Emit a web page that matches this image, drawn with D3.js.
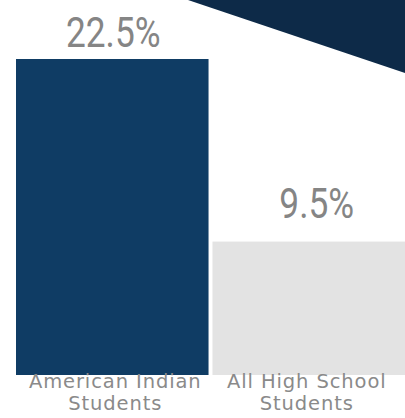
<!DOCTYPE html>
<html>
<head>
<meta charset="utf-8">
<script src="https://cdn.jsdelivr.net/npm/d3@7"></script>
<style>
  html, body { margin: 0; padding: 0; background: #fff; }
  svg { display: block; }
</style>
</head>
<body>
<svg id="chart"></svg>
<script>
// chart values
const categories = ['American Indian Students', 'All High School Students'];
const values = [22.5, 9.5];
const valueLabels = ['22.5%', '9.5%'];
const categoryLines = [['American Indian', 'Students'], ['All High School', 'Students']];
const barColors = ['#0f3c64', '#e3e3e3'];

const width = 405;
const height = 418;
const baseY = 375;

const svg = d3.select('#chart')
  .attr('width', width)
  .attr('height', height);

// decorative corner triangle
svg.append('polygon')
  .attr('points', `188,0 ${width},0 ${width},73`)
  .attr('fill', '#0d2a48');

const x = d3.scaleBand()
  .domain(categories)
  .range([16, width])
  .paddingInner(0.02)
  .paddingOuter(0);

const y = d3.scaleLinear()
  .domain([0, 22.5])
  .range([baseY, 59]);

svg.selectAll('rect.bar')
  .data(categories)
  .enter()
  .append('rect')
  .attr('class', 'bar')
  .attr('x', d => x(d))
  .attr('y', (d, i) => y(values[i]))
  .attr('width', x.bandwidth())
  .attr('height', (d, i) => y(0) - y(values[i]))
  .attr('fill', (d, i) => barColors[i]);

// value labels above the bars (condensed look via horizontal squeeze)
svg.selectAll('text.value')
  .data(categories)
  .enter()
  .append('text')
  .attr('class', 'value')
  .attr('transform', (d, i) => {
    const cx = x(d) + x.bandwidth() / 2 + (i === 0 ? 1 : 8);
    const by = Math.max(y(values[i]) - 24, 47);
    return `translate(${cx},${by}) scale(0.84,1)`;
  })
  .attr('text-anchor', 'middle')
  .style('font-family', 'Roboto, sans-serif')
  .style('font-size', '42px')
  .style('fill', '#858585')
  .text((d, i) => valueLabels[i]);

// category labels under the bars
const cat = svg.selectAll('text.cat')
  .data(categories)
  .enter()
  .append('text')
  .attr('class', 'cat')
  .attr('text-anchor', 'middle')
  .style('font-family', '"DejaVu Sans", sans-serif')
  .style('font-size', '19.5px')
  .style('letter-spacing', '0.9px')
  .style('fill', '#8a8a8a');

cat.selectAll('tspan')
  .data((d, i) => categoryLines[i].map(t => ({ t, cx: x(d) + x.bandwidth() / 2 + (i === 0 ? 3 : -2) })))
  .enter()
  .append('tspan')
  .attr('x', d => d.cx)
  .attr('y', (d, j) => 388 + j * 22)
  .text(d => d.t);
</script>
</body>
</html>
